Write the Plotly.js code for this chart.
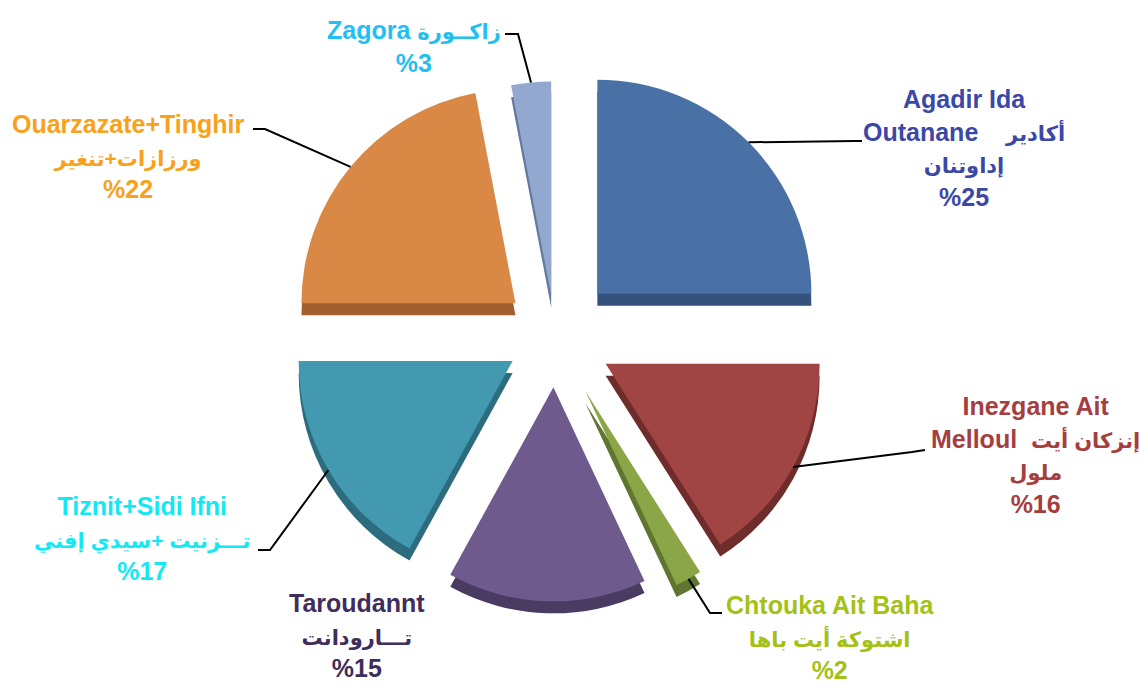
<!DOCTYPE html>
<html>
<head>
<meta charset="utf-8">
<script src="https://cdn.plot.ly/plotly-3.0.1.min.js"></script>
<style>
html,body{margin:0;padding:0;background:#ffffff;}
#chart{width:1147px;height:686px;}
</style>
</head>
<body>
<div id="chart"></div>
<script>
// ---- data ----
const regions = ["Agadir Ida Outanane", "Inezgane Ait Melloul", "Chtouka Ait Baha", "Taroudannt", "Tiznit+Sidi Ifni", "Ouarzazate+Tinghir", "Zagora"];
const shares = [25, 16, 2, 15, 17, 22, 3];
const labelLines = [
  ["Agadir Ida", "Outanane\u00A0\u00A0\u00A0\u00A0أكادير", "إداوتنان"],
  ["Inezgane Ait", "Melloul\u00A0\u00A0إنزكان أيت", "ملول"],
  ["Chtouka Ait Baha", "اشتوكة أيت باها"],
  ["Taroudannt", "تـــارودانت"],
  ["Tiznit+Sidi Ifni", "تـــزنيت +سيدي إفني"],
  ["Ouarzazate+Tinghir", "ورزازات+تنغير"],
  ["Zagora زاكــورة"]
];
const pulls = [0.28, 0.27, 0.295, 0.24, 0.23, 0.24, 0.19];

// ---- styles ----
const sliceColors = ["#4A71A5", "#A04543", "#8AA646", "#6E5A8D", "#4299B0", "#D98845", "#93A8CE"];
const sideColors  = ["#34527C", "#6E2C2B", "#5F7530", "#4A3B62", "#2D6C7E", "#A05F2C", "#66799E"];
const textColors  = ["#3B48A6", "#A53E3E", "#A4C116", "#3F2D5B", "#14E8F2", "#F8A11B", "#22BFF2"];

const W = 1147, H = 686;
const CX = 555, CY = 336, R = 214, DEPTH = 12;
const LATIN_SIZE = 25, ARABIC_SIZE = 21;
// label centres (px) and leader bend points (px)
const labelPos = [[964,148],[1035,455],[830,637],[357,635],[142,538],[128,156],[414,46]];
const leaderBends = [
  [[855,141],[862,141]],
  [[912,452],[925,450]],
  [[710,613],[722,613]],
  null,
  [[270,550],[258,550]],
  [[265,129],[253,129]],
  [[518,34],[505,34]]
];

const maxPull = Math.max(...pulls);
const half = R * (1 + maxPull);
const px = x => x / W;
const py = y => 1 - y / H;

function domainFor(dy) {
  return {
    x: [px(CX - half), px(CX + half)],
    y: [py(CY + dy + half), py(CY + dy - half)]
  };
}

const common = {
  type: 'pie',
  values: shares,
  labels: regions,
  sort: false,
  direction: 'clockwise',
  rotation: 0,
  pull: pulls,
  textinfo: 'none',
  hoverinfo: 'skip',
  showlegend: false
};

const sideTrace = Object.assign({}, common, {
  domain: domainFor(DEPTH),
  marker: {colors: sideColors, line: {width: 0}}
});
const topTrace = Object.assign({}, common, {
  domain: domainFor(0),
  marker: {colors: sliceColors, line: {width: 0}}
});

function styleLine(l) {
  const ar = /[\u0600-\u06FF][\u0600-\u06FF\s+\u00A0]*[\u0600-\u06FF]/g;
  return '<b>' + l.replace(ar, m => '<span style="font-size:' + ARABIC_SIZE + 'px">' + m + '</span>') + '</b>';
}

// annotations & leader lines
const total = shares.reduce((a, b) => a + b, 0);
const annotations = [];
const shapes = [];
let cum = 0;
shares.forEach((s, i) => {
  const mid = (cum + s / 2) / total * 2 * Math.PI;
  cum += s;
  const dx = Math.sin(mid), dy = -Math.cos(mid);
  const lines = labelLines[i].concat(["%" + s]);
  annotations.push({
    xref: 'paper', yref: 'paper',
    x: px(labelPos[i][0]), y: py(labelPos[i][1]),
    xanchor: 'center', yanchor: 'middle', align: 'center',
    showarrow: false,
    text: lines.map(styleLine).join('<br>'),
    font: {family: 'Liberation Sans, DejaVu Sans, Arial, sans-serif', size: LATIN_SIZE, color: textColors[i]}
  });
  if (leaderBends[i]) {
    const d = R * (pulls[i] + 1.0);
    const sx = CX + dx * d, sy = CY + dy * d;
    const pts = [[sx, sy]].concat(leaderBends[i]);
    const path = pts.map((p, k) => (k ? 'L' : 'M') + px(p[0]).toFixed(5) + ',' + py(p[1]).toFixed(5)).join(' ');
    shapes.push({type: 'path', xref: 'paper', yref: 'paper', path: path,
      line: {color: '#000000', width: 2}});
  }
});

const layout = {
  width: W, height: H,
  margin: {l: 0, r: 0, t: 0, b: 0},
  paper_bgcolor: '#ffffff',
  plot_bgcolor: '#ffffff',
  showlegend: false,
  annotations: annotations,
  shapes: shapes
};

Plotly.newPlot('chart', [sideTrace, topTrace], layout, {displayModeBar: false, staticPlot: true});
</script>
</body>
</html>
